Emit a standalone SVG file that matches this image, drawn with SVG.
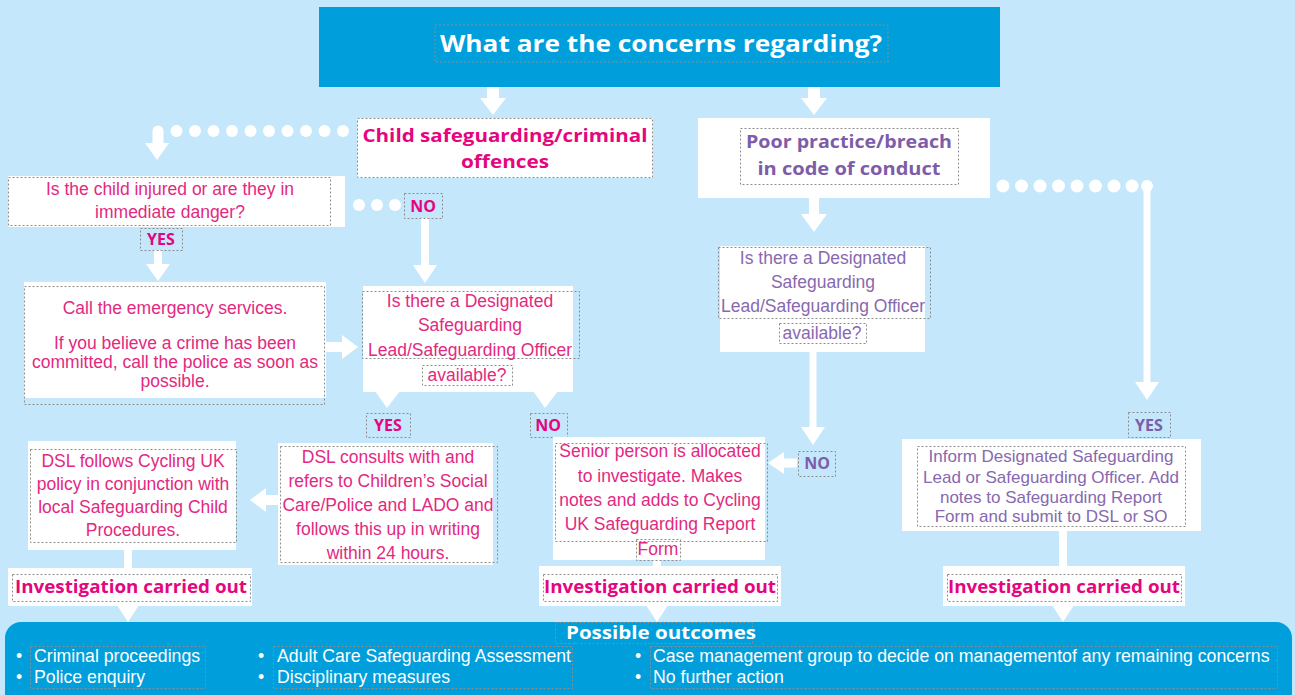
<svg xmlns="http://www.w3.org/2000/svg" width="1295" height="695" viewBox="0 0 1295 695">
<defs>
<style>
.wb{fill:#ffffff}
.dash{fill:none;stroke:#8c8c8c;stroke-width:1;stroke-dasharray:2 2}
.t{font-family:"Liberation Sans",Arial,sans-serif;font-size:17.5px;text-anchor:middle}
.ts{font-family:"Liberation Sans",Arial,sans-serif;font-size:17px;text-anchor:middle}
.tl{font-family:"Liberation Sans",Arial,sans-serif;font-size:17.7px;fill:#ffffff}
.h{font-family:"Open Sans","Liberation Sans",sans-serif;font-weight:700;text-anchor:middle}
.pk{fill:#E4057F}
.pkt{fill:#E3297F}
.pu{fill:#7D5DA8}
.put{fill:#8769B0}
.wl{fill:#ffffff}
.stem{fill:none;stroke:#ffffff;stroke-linecap:butt}
</style>
</defs>
<rect x="0" y="0" width="1295" height="695" fill="#C5E7FB"/>

<g id="connectors">
  <!-- top arrows -->
  <rect x="487" y="87" width="12" height="12" class="wl"/>
  <polygon points="480,98 506,98 493,115" class="wl"/>
  <rect x="808" y="87" width="12" height="12" class="wl"/>
  <polygon points="801,98 827,98 814,115" class="wl"/>
  <!-- left dotted to Q1 -->
  <g class="wl">
    <circle cx="343" cy="131" r="6"/><circle cx="324.5" cy="131" r="6"/><circle cx="306" cy="131" r="6"/>
    <circle cx="287.5" cy="131" r="6"/><circle cx="269" cy="131" r="6"/><circle cx="250.5" cy="131" r="6"/>
    <circle cx="232" cy="131" r="6"/><circle cx="213.5" cy="131" r="6"/><circle cx="195" cy="131" r="6"/>
    <circle cx="176.5" cy="131" r="6"/>
  </g>
  <path d="M158,131 V144" stroke="#ffffff" stroke-width="11" stroke-linecap="round" fill="none"/>
  <polygon points="145,143 169,143 157,160" class="wl"/>
  <!-- Q1 NO dots -->
  <g class="wl">
    <circle cx="359" cy="205" r="6"/><circle cx="377" cy="205" r="6"/><circle cx="395" cy="205" r="6"/>
  </g>
  <path d="M425,218 V266" class="stem" stroke-width="8"/>
  <polygon points="413,265 437,265 425,283" class="wl"/>
  <!-- YES down -->
  <path d="M158,250 V265" class="stem" stroke-width="8"/>
  <polygon points="146,264 170,264 158,281" class="wl"/>
  <!-- emergency to DSL -->
  <path d="M326,347 H343" class="stem" stroke-width="10"/>
  <polygon points="342,335 342,359 358,347" class="wl"/>
  <!-- DSL Q pointers -->
  <polygon points="375,391 400,391 387,408" class="wl"/>
  <polygon points="533,391 558,391 545,408" class="wl"/>
  <!-- DSL consults to DSL follows -->
  <path d="M279,500 H265" class="stem" stroke-width="10"/>
  <polygon points="266,488 266,512 250,500" class="wl"/>
  <!-- to investigations -->
  <rect x="124" y="549" width="8" height="20" class="wl"/>
  <rect x="653" y="559" width="8" height="9" class="wl"/>
  <rect x="1059" y="530" width="8" height="38" class="wl"/>
  <polygon points="117,605 139,605 128,622" class="wl"/>
  <polygon points="646,605 668,605 657,622" class="wl"/>
  <polygon points="1052,605 1074,605 1063,622" class="wl"/>
  <!-- poor practice down -->
  <path d="M814,197 V215" class="stem" stroke-width="10"/>
  <polygon points="801,214 827,214 814,232" class="wl"/>
  <!-- purple DSL down to NO -->
  <path d="M813,351 V428" class="stem" stroke-width="7"/>
  <polygon points="801,427 825,427 813,445" class="wl"/>
  <!-- NO left to senior -->
  <path d="M797,463 H783" class="stem" stroke-width="9"/>
  <polygon points="784,452 784,474 768,463" class="wl"/>
  <!-- right dotted -->
  <g class="wl">
    <circle cx="1003" cy="186" r="6.5"/><circle cx="1021.5" cy="186" r="6.5"/><circle cx="1040" cy="186" r="6.5"/>
    <circle cx="1058.5" cy="186" r="6.5"/><circle cx="1077" cy="186" r="6.5"/><circle cx="1095.5" cy="186" r="6.5"/>
    <circle cx="1114" cy="186" r="6.5"/><circle cx="1132" cy="186" r="6.5"/><circle cx="1147" cy="186" r="6"/>
  </g>
  <path d="M1147,186 V383" stroke="#ffffff" stroke-width="7" fill="none"/>
  <polygon points="1135,382 1159,382 1147,400" class="wl"/>
</g>

<g id="title">
  <rect x="319" y="7" width="681" height="80" fill="#009EDB"/>
  <rect x="435" y="25" width="453" height="37" class="dash"/>
  <text x="661" y="52" class="h" font-size="22.5" fill="#ffffff" textLength="442" lengthAdjust="spacingAndGlyphs">What are the concerns regarding?</text>
</g>

<g id="child">
  <rect x="357" y="118" width="296" height="60" class="wb"/>
  <rect x="357.5" y="118.5" width="295" height="59" class="dash"/>
  <text x="505" y="142" class="h pk" font-size="18" textLength="285" lengthAdjust="spacingAndGlyphs">Child safeguarding/criminal</text>
  <text x="505" y="168" class="h pk" font-size="18" textLength="88" lengthAdjust="spacingAndGlyphs">offences</text>
</g>

<g id="poor">
  <rect x="698" y="118" width="292" height="80" class="wb"/>
  <rect x="740.5" y="128.5" width="218" height="56" class="dash"/>
  <text x="849" y="148" class="h pu" font-size="18" textLength="206" lengthAdjust="spacingAndGlyphs">Poor practice/breach</text>
  <text x="849" y="175" class="h pu" font-size="18" textLength="183" lengthAdjust="spacingAndGlyphs">in code of conduct</text>
</g>

<g id="q-injured">
  <rect x="8" y="176" width="337" height="51" class="wb"/>
  <rect x="8.5" y="177.5" width="322" height="48" class="dash"/>
  <text x="170" y="195" class="t pkt">Is the child injured or are they in</text>
  <text x="170" y="218" class="t pkt">immediate danger?</text>
</g>

<g id="lbl-no-1">
  <rect x="404.5" y="193.5" width="38" height="25" class="dash"/>
  <text x="423" y="212" class="h pk" font-size="16">NO</text>
</g>

<g id="lbl-yes-1">
  <rect x="140.5" y="228.5" width="42" height="22" class="dash"/>
  <text x="161" y="245" class="h pk" font-size="16">YES</text>
</g>

<g id="emergency">
  <rect x="24" y="282" width="302" height="116" class="wb"/>
  <rect x="24.5" y="286.5" width="300" height="118" class="dash"/>
  <text x="175" y="314" class="t pkt" font-size="17">Call the emergency services.</text>
  <text x="175" y="349" class="t pkt" font-size="17">If you believe a crime has been</text>
  <text x="175" y="368" class="t pkt" font-size="17">committed, call the police as soon as</text>
  <text x="175" y="387" class="t pkt" font-size="17">possible.</text>
</g>

<g id="dsl-q-left">
  <rect x="363" y="286" width="210" height="106" class="wb"/>
  <rect x="362.5" y="291.5" width="217" height="67" class="dash"/>
  <rect x="422.5" y="365.5" width="90" height="20" class="dash"/>
  <text x="470" y="307" class="t pkt">Is there a Designated</text>
  <text x="470" y="331" class="t pkt">Safeguarding</text>
  <text x="470" y="356" class="t pkt">Lead/Safeguarding Officer</text>
  <text x="467" y="381" class="t pkt">available?</text>
</g>

<g id="lbl-yes-2">
  <rect x="366.5" y="413.5" width="44" height="24" class="dash"/>
  <text x="388" y="431" class="h pk" font-size="16">YES</text>
</g>

<g id="lbl-no-2">
  <rect x="530.5" y="413.5" width="37" height="24" class="dash"/>
  <text x="548" y="431" class="h pk" font-size="16">NO</text>
</g>

<g id="dsl-consults">
  <rect x="278" y="443" width="215" height="122" class="wb"/>
  <rect x="280.5" y="446.5" width="217" height="116" class="dash"/>
  <text x="388" y="463" class="t pkt">DSL consults with and</text>
  <text x="388" y="487" class="t pkt">refers to Children’s Social</text>
  <text x="388" y="511" class="t pkt">Care/Police and LADO and</text>
  <text x="388" y="535" class="t pkt">follows this up in writing</text>
  <text x="388" y="559" class="t pkt">within 24 hours.</text>
</g>

<g id="dsl-follows">
  <rect x="28" y="441" width="208" height="109" class="wb"/>
  <rect x="30.5" y="449.5" width="206" height="93" class="dash"/>
  <text x="133" y="467" class="t pkt">DSL follows Cycling UK</text>
  <text x="133" y="490" class="t pkt">policy in conjunction with</text>
  <text x="133" y="513" class="t pkt">local Safeguarding Child</text>
  <text x="133" y="536" class="t pkt">Procedures.</text>
</g>

<g id="investigation-1">
  <rect x="8" y="568" width="244" height="38" class="wb"/>
  <rect x="12.5" y="574.5" width="238" height="27" class="dash"/>
  <text x="131" y="593" class="h pk" font-size="18" textLength="232" lengthAdjust="spacingAndGlyphs">Investigation carried out</text>
</g>

<g id="senior">
  <rect x="553" y="437" width="212" height="123" class="wb"/>
  <rect x="555.5" y="443.5" width="212" height="98" class="dash"/>
  <rect x="636.5" y="539.5" width="44" height="21" class="dash"/>
  <text x="660" y="457" class="t pkt">Senior person is allocated</text>
  <text x="660" y="482" class="t pkt">to investigate. Makes</text>
  <text x="660" y="506" class="t pkt">notes and adds to Cycling</text>
  <text x="660" y="530" class="t pkt">UK Safeguarding Report</text>
  <text x="658" y="555" class="t pkt">Form</text>
</g>

<g id="investigation-2">
  <rect x="539" y="566" width="242" height="40" class="wb"/>
  <rect x="543.5" y="574.5" width="234" height="27" class="dash"/>
  <text x="660" y="593" class="h pk" font-size="18" textLength="232" lengthAdjust="spacingAndGlyphs">Investigation carried out</text>
</g>

<g id="dsl-q-right">
  <rect x="720" y="246" width="205" height="106" class="wb"/>
  <rect x="718.5" y="247.5" width="212" height="71" class="dash"/>
  <rect x="779.5" y="323.5" width="87" height="20" class="dash"/>
  <text x="823" y="264" class="t put">Is there a Designated</text>
  <text x="823" y="288" class="t put">Safeguarding</text>
  <text x="823" y="312" class="t put">Lead/Safeguarding Officer</text>
  <text x="822" y="339" class="t put">available?</text>
</g>

<g id="lbl-no-3">
  <rect x="798.5" y="451.5" width="37" height="25" class="dash"/>
  <text x="817" y="469" class="h pu" font-size="16">NO</text>
</g>

<g id="lbl-yes-3">
  <rect x="1128.5" y="412.5" width="42" height="25" class="dash"/>
  <text x="1149" y="431" class="h pu" font-size="16">YES</text>
</g>

<g id="inform">
  <rect x="902" y="439" width="299" height="92" class="wb"/>
  <rect x="917.5" y="446.5" width="268" height="80" class="dash"/>
  <text x="1051" y="462" class="ts put">Inform Designated Safeguarding</text>
  <text x="1051" y="483" class="ts put">Lead or Safeguarding Officer. Add</text>
  <text x="1051" y="503" class="ts put">notes to Safeguarding Report</text>
  <text x="1051" y="522" class="ts put">Form and submit to DSL or SO</text>
</g>

<g id="investigation-3">
  <rect x="943" y="566" width="242" height="40" class="wb"/>
  <rect x="947.5" y="574.5" width="234" height="27" class="dash"/>
  <text x="1064" y="593" class="h pk" font-size="18" textLength="232" lengthAdjust="spacingAndGlyphs">Investigation carried out</text>
</g>

<g id="outcomes">
  <rect x="5" y="622" width="1287" height="100" rx="16" fill="#009EDB"/>
  <rect x="555.5" y="622.5" width="197" height="21" class="dash"/>
  <text x="661" y="639" class="h" font-size="17" fill="#ffffff" textLength="190" lengthAdjust="spacingAndGlyphs">Possible outcomes</text>
  <rect x="30.5" y="646.5" width="175" height="42" class="dash"/>
  <rect x="273.5" y="646.5" width="299" height="42" class="dash"/>
  <rect x="650.5" y="646.5" width="627" height="42" class="dash"/>
  <text x="16" y="662" class="tl">•</text>
  <text x="16" y="683" class="tl">•</text>
  <text x="34" y="662" class="tl">Criminal proceedings</text>
  <text x="34" y="683" class="tl">Police enquiry</text>
  <text x="258" y="662" class="tl">•</text>
  <text x="258" y="683" class="tl">•</text>
  <text x="277" y="662" class="tl">Adult Care Safeguarding Assessment</text>
  <text x="277" y="683" class="tl">Disciplinary measures</text>
  <text x="635" y="662" class="tl">•</text>
  <text x="635" y="683" class="tl">•</text>
  <text x="653" y="662" class="tl">Case management group to decide on managementof any remaining concerns</text>
  <text x="653" y="683" class="tl">No further action</text>
</g>
</svg>
